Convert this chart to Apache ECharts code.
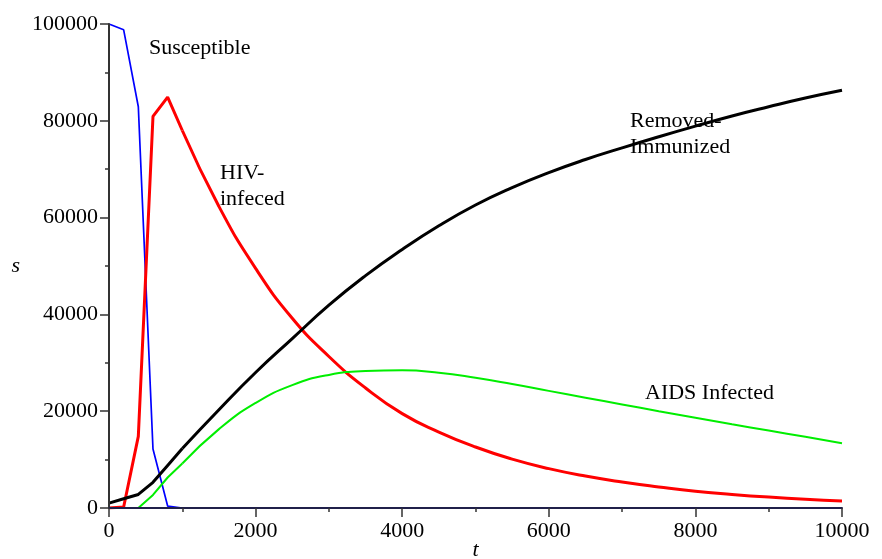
<!DOCTYPE html>
<html>
<head>
<meta charset="utf-8">
<script src="https://cdn.jsdelivr.net/npm/echarts@6/dist/echarts.min.js"></script>
<style>
html,body{margin:0;padding:0;background:#fff;}
#chart{width:882px;height:559px;}
</style>
</head>
<body>
<div id="chart"></div>
<script>
// Early phase (piecewise, step 200)
var tEarly = [0, 200, 400, 600, 800, 1000];
var susceptibleEarly = [100000, 98800, 82900, 12200, 400, 0];
var hivEarly = [0, 200, 14800, 80900, 84900, 78000];
var removedEarly = [1000, 1900, 2800, 5300, 8800, 12300];
var aidsEarly = [0, 0, 0, 2700, 6300, 9200];

// Late phase (step 500)
var tLate = [1000, 1500, 2000, 2500, 3000, 3500, 4000, 4500, 5000, 5500, 6000, 6500, 7000, 7500, 8000, 8500, 9000, 9500, 10000];
var susceptibleLate = [0, 0, 0, 0, 0, 0, 0, 0, 0, 0, 0, 0, 0, 0, 0, 0, 0, 0, 0];
var hivLate = [78000, 62300, 49500, 39200, 31300, 24800, 19500, 15700, 12600, 10100, 8140, 6600, 5370, 4350, 3450, 2800, 2250, 1800, 1450];
var removedLate = [12300, 20300, 28000, 35000, 41900, 48000, 53400, 58300, 62600, 66200, 69300, 72000, 74400, 76700, 78900, 81000, 82900, 84700, 86300];
var aidsLate = [9200, 16300, 21700, 25400, 27500, 28300, 28450, 27950, 26900, 25600, 24200, 22800, 21400, 20000, 18650, 17300, 16000, 14700, 13400];

var xTicks = [0, 2000, 4000, 6000, 8000, 10000];
var yTicks = [0, 20000, 40000, 60000, 80000, 100000];

function pairs(xs, ys){ return xs.map(function(x,i){ return [x, ys[i]]; }); }

var FONT = '"Liberation Serif", "DejaVu Serif", serif';

function line(data, color, width, smooth, z){
  return {type:'line', data:data, showSymbol:false, symbol:'none', smooth:smooth,
    lineStyle:{color:color, width:width}, itemStyle:{color:color}, z:z, silent:true};
}

var chart = echarts.init(document.getElementById('chart'), null, {renderer:'canvas'});
chart.setOption({
  animation:false,
  backgroundColor:'#fff',
  grid:{left:109, right:40, top:24, bottom:51, containLabel:false, outerBoundsMode:'none'},
  xAxis:{
    type:'value', min:0, max:10000, interval:2000,
    name:'t', nameLocation:'middle', nameGap:31, nameMoveOverlap:false,
    nameTextStyle:{fontFamily:FONT, fontStyle:'italic', fontSize:22, color:'#000'},
    axisLine:{show:true, onZero:false, lineStyle:{color:'#20204a', width:2}},
    axisTick:{show:true, inside:false, length:9, lineStyle:{color:'#333', width:1.5}},
    minorTick:{show:true, splitNumber:2, length:4, lineStyle:{color:'#333', width:1.5}},
    splitLine:{show:false},
    axisLabel:{fontFamily:FONT, fontSize:22, color:'#000', margin:12,
      formatter:function(v){ return xTicks.indexOf(v) >= 0 ? String(v) : ''; }},
    z:5
  },
  yAxis:{
    type:'value', min:0, max:100000, interval:20000,
    name:'s', nameLocation:'middle', nameGap:89, nameRotate:0, nameMoveOverlap:false,
    nameTextStyle:{fontFamily:FONT, fontStyle:'italic', fontSize:22, color:'#000'},
    axisLine:{show:true, onZero:false, lineStyle:{color:'#333', width:2}},
    axisTick:{show:true, inside:false, length:9, lineStyle:{color:'#333', width:1.5}},
    minorTick:{show:true, splitNumber:2, length:4, lineStyle:{color:'#333', width:1.5}},
    splitLine:{show:false},
    axisLabel:{fontFamily:FONT, fontSize:22, color:'#000', margin:11,
      formatter:function(v){ return yTicks.indexOf(v) >= 0 ? String(v) : ''; }},
    z:5
  },
  series:[
    line(pairs(tEarly, susceptibleEarly), '#0000ff', 1.7, false, 2),
    line(pairs(tLate, susceptibleLate), '#0000ff', 1.7, false, 2),
    line(pairs(tEarly, hivEarly), '#ff0000', 3, false, 3),
    line(pairs(tLate, hivLate), '#ff0000', 3, true, 3),
    line(pairs(tEarly, aidsEarly), '#00ee00', 2, false, 3),
    line(pairs(tLate, aidsLate), '#00ee00', 2, true, 3),
    line(pairs(tEarly, removedEarly), '#000000', 3, false, 4),
    line(pairs(tLate, removedLate), '#000000', 3, true, 4)
  ],
  graphic:[
    {type:'text', left:149, top:37, style:{text:'Susceptible', font:'22px '+FONT, fill:'#000'}, z:10},
    {type:'text', left:220, top:160, style:{text:'HIV-\ninfeced', font:'22px '+FONT, fill:'#000', lineHeight:26}, z:10},
    {type:'text', left:630, top:108, style:{text:'Removed-\nImmunized', font:'22px '+FONT, fill:'#000', lineHeight:26}, z:10},
    {type:'text', left:645, top:382, style:{text:'AIDS Infected', font:'22px '+FONT, fill:'#000'}, z:10}
  ]
});
</script>
</body>
</html>
